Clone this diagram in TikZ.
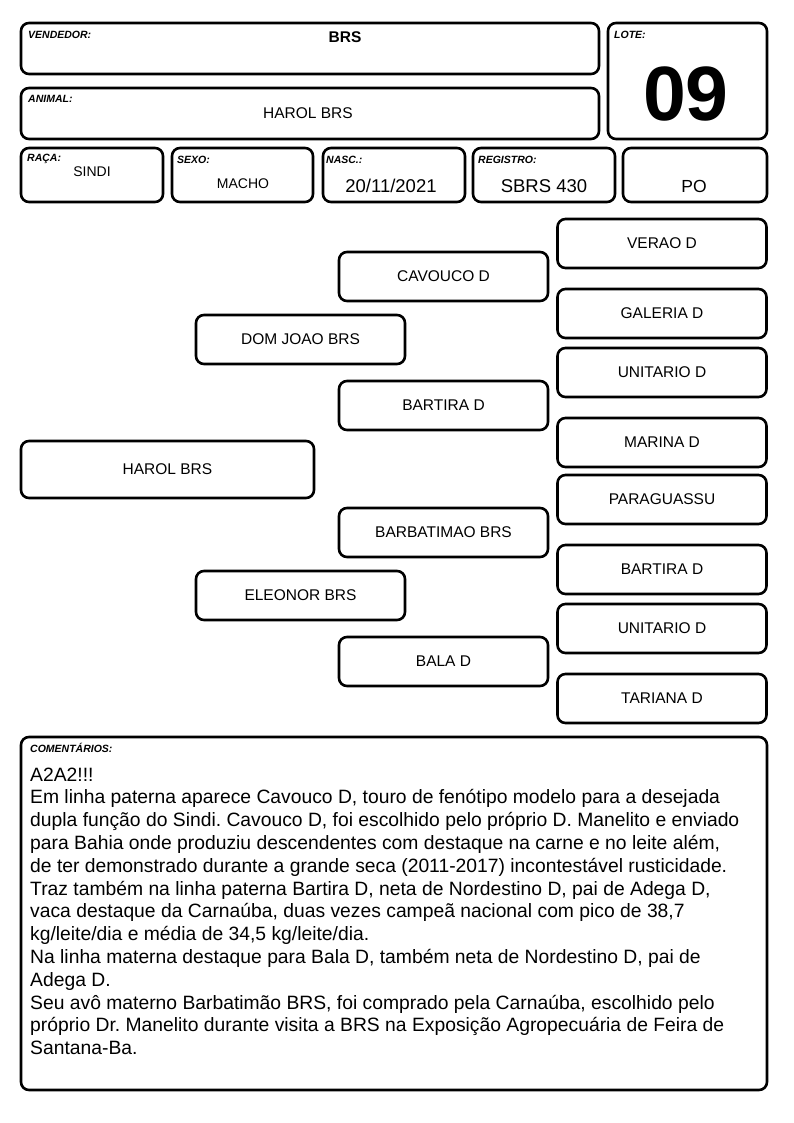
\documentclass[tikz,border=0pt]{standalone}
\usepackage{fontspec}
\setmainfont{Liberation Sans}
\frenchspacing
\begin{document}
\begin{tikzpicture}[x=1pt,y=-1pt,
  box/.style={draw, line width=2.6pt, rounded corners=8pt, inner sep=0pt},
  lab/.style={font=\fontsize{10.5}{12}\selectfont\bfseries\itshape, anchor=west, inner sep=0pt},
  val/.style={inner sep=0pt},
  ped/.style={box, minimum width=209pt, minimum height=49pt, font=\fontsize{15.5}{18}\selectfont},
]
\useasboundingbox (0,0) rectangle (794,1123);
% header
\node[box, minimum width=578pt, minimum height=51pt] (vend) at (310,48.5) {};
\node[lab] (vendl) at (28,35) {VENDEDOR:};
\node[val, font=\fontsize{15.5}{18}\selectfont\bfseries] (vendv) at (345,37) {BRS};
\node[box, minimum width=578pt, minimum height=51pt] (anim) at (310,113.5) {};
\node[lab] (animl) at (28,99) {ANIMAL:};
\node[val, font=\fontsize{15.5}{18}\selectfont] (animv) at (308,113) {HAROL BRS};
\node[box, minimum width=159pt, minimum height=116pt] (lote) at (687.5,81) {};
\node[lab] (lotel) at (614,35) {LOTE:};
\node[val, font=\fontsize{77}{80}\selectfont\bfseries] (lotev) at (686,93.5) {09};
% row
\node[box, minimum width=142pt, minimum height=54pt] (raca) at (92,175) {};
\node[lab] (racal) at (27,159) {RAÇA:};
\node[val, font=\fontsize{14}{16}\selectfont] (racav) at (92,172) {SINDI};
\node[box, minimum width=141pt, minimum height=54pt] (sexo) at (242.5,175) {};
\node[lab] (sexol) at (177,160) {SEXO:};
\node[val, font=\fontsize{14}{16}\selectfont] (sexov) at (243,184) {MACHO};
\node[box, minimum width=142pt, minimum height=54pt] (nasc) at (394,175) {};
\node[lab] (nascl) at (326,160) {NASC.:};
\node[val, font=\fontsize{18.5}{20}\selectfont] (nascv) at (391,186) {20/11/2021};
\node[box, minimum width=142pt, minimum height=54pt] (reg) at (544,175) {};
\node[lab] (regl) at (478,160) {REGISTRO:};
\node[val, font=\fontsize{18.5}{20}\selectfont] (regv) at (544,186) {SBRS 430};
\node[box, minimum width=144pt, minimum height=54pt] (po) at (695,175) {};
\node[val, font=\fontsize{17.5}{20}\selectfont] (pov) at (694,186) {PO};
% pedigree
\node[ped] (p1) at (662,243.5) {VERAO D};
\node[ped] (s1) at (443.5,276.5) {CAVOUCO D};
\node[ped] (p2) at (662,313.5) {GALERIA D};
\node[ped] (g1) at (300.5,339.5) {DOM JOAO BRS};
\node[ped] (p3) at (662,372.5) {UNITARIO D};
\node[ped] (s2) at (443.5,405.5) {BARTIRA D};
\node[ped] (p4) at (662,442.5) {MARINA D};
\node[ped, minimum width=293pt, minimum height=57pt] (root) at (167.5,469.5) {HAROL BRS};
\node[ped] (p5) at (662,499.5) {PARAGUASSU};
\node[ped] (s3) at (443.5,532.5) {BARBATIMAO BRS};
\node[ped] (p6) at (662,569.5) {BARTIRA D};
\node[ped] (g2) at (300.5,595.5) {ELEONOR BRS};
\node[ped] (p7) at (662,628.5) {UNITARIO D};
\node[ped] (s4) at (443.5,661.5) {BALA D};
\node[ped] (p8) at (662,698.5) {TARIANA D};
% comments
\node[box, minimum width=746pt, minimum height=353pt] (com) at (394,913.5) {};
\node[lab] (coml) at (30,748) {COMENTÁRIOS:};
\node[inner sep=0pt, anchor=north west, align=left, font=\fontsize{19.3}{22.8}\selectfont] (comt) at (30,767.5) {A2A2!!!\\
Em linha paterna aparece Cavouco D, touro de fenótipo modelo para a desejada\\
dupla função do Sindi. Cavouco D, foi escolhido pelo próprio D. Manelito e enviado\\
para Bahia onde produziu descendentes com destaque na carne e no leite além,\\
de ter demonstrado durante a grande seca (2011-2017) incontestável rusticidade.\\
Traz também na linha paterna Bartira D, neta de Nordestino D, pai de Adega D,\\
vaca destaque da Carnaúba, duas vezes campeã nacional com pico de 38,7\\
kg/leite/dia e média de 34,5 kg/leite/dia.\\
Na linha materna destaque para Bala D, também neta de Nordestino D, pai de\\
Adega D.\\
Seu avô materno Barbatimão BRS, foi comprado pela Carnaúba, escolhido pelo\\
próprio Dr. Manelito durante visita a BRS na Exposição Agropecuária de Feira de\\
Santana-Ba.};
\end{tikzpicture}
\end{document}
